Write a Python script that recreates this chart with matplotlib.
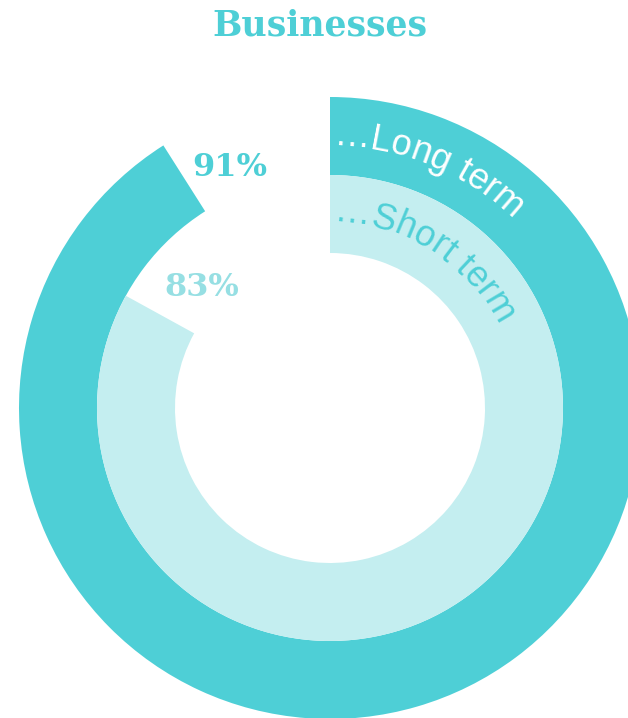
import numpy as np
import matplotlib

matplotlib.use("Agg")

import matplotlib.pyplot as plt
from matplotlib.font_manager import FontProperties, findfont, get_font

# data
title = "Businesses"
terms = ["\u2026Long term", "\u2026Short term"]
shares = [91, 83]
share_labels = ["91%", "83%"]

DARK = "#4ECFD6"
LIGHT = "#C4EEF0"
LABEL_LIGHT = "#96DFE3"

W, H = 628, 718
CX, CY = 330, H - 408
R_OUT, R_IN, RING_W = 311, 233, 78

fig = plt.figure(figsize=(W / 100, H / 100), dpi=100)
ax = fig.add_axes([0, 0, 1, 1])

ring_colors = [DARK, LIGHT]
radii = [R_OUT, R_IN]
for share, radius, color in zip(shares, radii, ring_colors):
    ax.pie(
        [share, 100 - share],
        radius=radius,
        center=(CX, CY),
        startangle=90,
        counterclock=False,
        colors=[color, "none"],
        wedgeprops=dict(width=RING_W, linewidth=0),
    )

ax.set_xlim(0, W)
ax.set_ylim(0, H)
ax.set_aspect("equal")
ax.axis("off")


def curved_text(text, radius, start_px, color, size_pt):
    fp = FontProperties(family="Liberation Sans", size=size_pt)
    font = get_font(findfont(fp))
    font.set_size(size_pt, 100)
    pos = start_px
    for ch in text:
        adv = font.load_char(ord(ch)).linearHoriAdvance / 65536
        theta = np.pi / 2 - (pos + adv / 2) / radius
        x = CX + radius * np.cos(theta)
        y = CY + radius * np.sin(theta)
        ax.text(x, y, ch, fontproperties=fp, color=color,
                rotation=np.degrees(theta) - 90, rotation_mode="anchor",
                ha="center", va="baseline")
        pos += adv


curved_text(terms[0], 262, 3, "white", 26)
curved_text(terms[1], 186, 3, DARK, 26)

title_font = dict(family="DejaVu Serif", weight="bold")
fig.text(320 / W, 1 - 26 / H, title, color=DARK, fontsize=25,
         ha="center", va="center", **title_font)

ax.text(230, H - 168, share_labels[0], color=DARK, fontsize=23,
        ha="center", va="center", **title_font)
ax.text(202, H - 288, share_labels[1], color=LABEL_LIGHT, fontsize=23,
        ha="center", va="center", **title_font)

fig.savefig("out.png", dpi=100)
